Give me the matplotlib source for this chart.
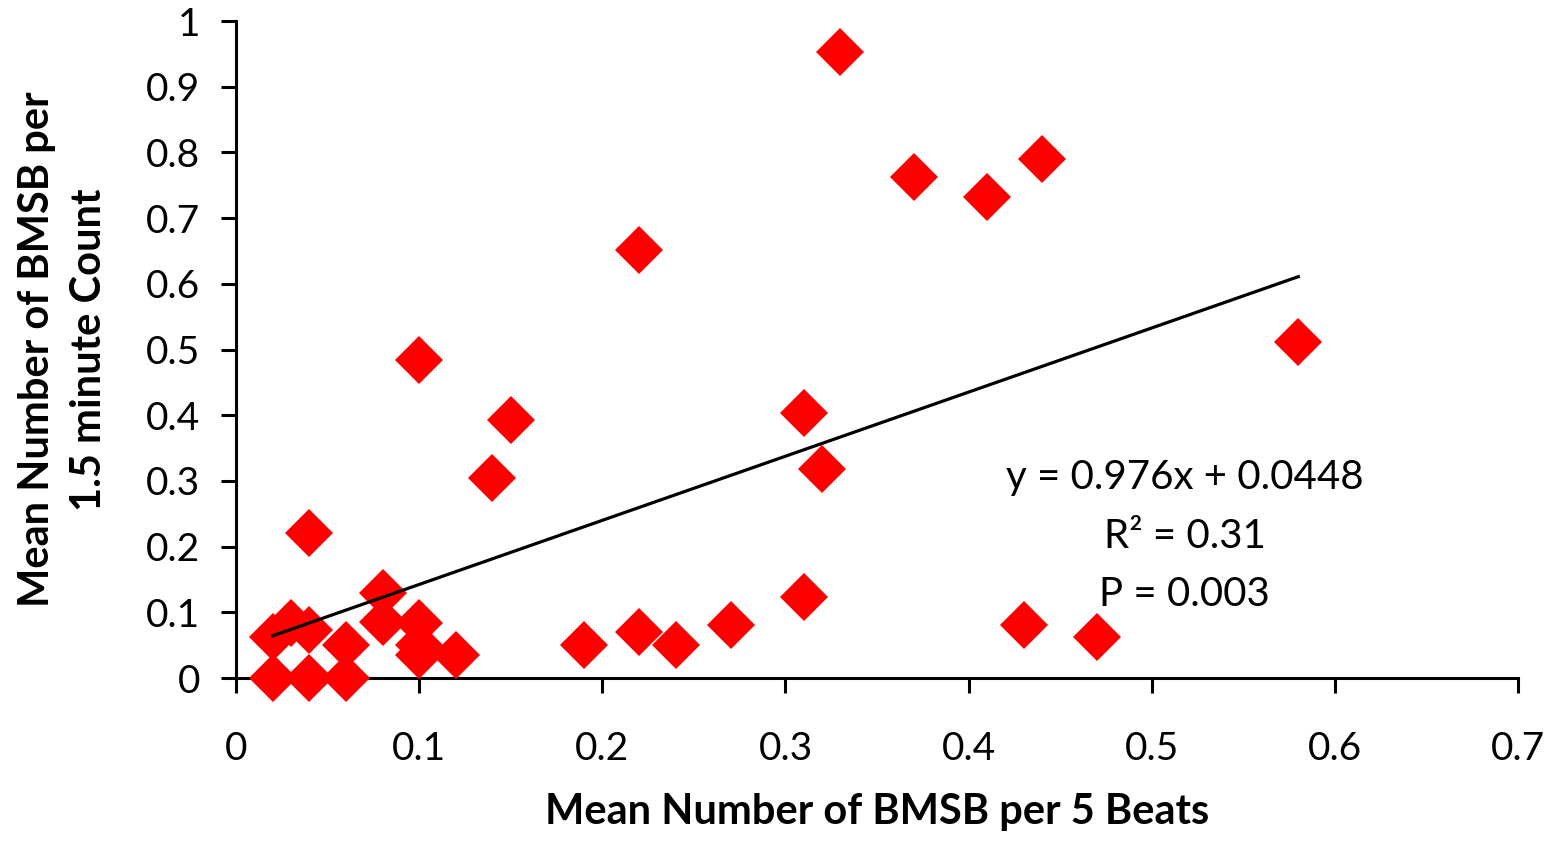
import numpy as np
import matplotlib
matplotlib.use('Agg')
import matplotlib.pyplot as plt

plt.rcParams['font.family'] = ['Lato', 'DejaVu Sans']

# 데이터
beats_x = [0.02, 0.02, 0.03, 0.04, 0.04, 0.04, 0.06, 0.06, 0.08, 0.08,
           0.10, 0.10, 0.10, 0.12, 0.10, 0.14, 0.15, 0.19, 0.22, 0.22,
           0.24, 0.27, 0.31, 0.31, 0.32, 0.33, 0.37, 0.41, 0.43, 0.44,
           0.47, 0.58]
count_y = [0.00, 0.062, 0.084, 0.073, 0.00, 0.22, 0.05, 0.00, 0.13, 0.085,
           0.084, 0.05, 0.035, 0.035, 0.484, 0.304, 0.393, 0.05, 0.651, 0.07,
           0.05, 0.08, 0.403, 0.123, 0.318, 0.953, 0.763, 0.732, 0.08, 0.79,
           0.062, 0.511]

slope = 0.976
intercept = 0.0448
eq_text = ['y = 0.976x + 0.0448', 'R² = 0.31', 'P = 0.003']

fig = plt.figure(figsize=(15.61, 8.47), dpi=100)
ax = fig.add_axes([0.1512, 0.1995, 0.8213, 0.7757])

ax.plot(beats_x, count_y, linestyle='none', marker='D', markersize=24,
        color='#ff0000', markeredgewidth=0, clip_on=False, zorder=3)

# 추세선
fit_x = np.unique(beats_x)
ax.plot(fit_x, slope * fit_x + intercept, color='black', linewidth=2.3, zorder=4)

ax.set_xlim(0, 0.7)
ax.set_ylim(0, 1)
ax.set_xticks(np.arange(0, 0.71, 0.1))
ax.set_xticklabels(['0', '0.1', '0.2', '0.3', '0.4', '0.5', '0.6', '0.7'])
ax.set_yticks(np.arange(0, 1.01, 0.1))
ax.set_yticklabels(['0', '0.1', '0.2', '0.3', '0.4', '0.5', '0.6', '0.7',
                    '0.8', '0.9', '1'])

ax.spines['top'].set_visible(False)
ax.spines['right'].set_visible(False)
for s in ['left', 'bottom']:
    ax.spines[s].set_linewidth(2.2)
ax.tick_params(axis='both', direction='out', length=11, width=2.2,
               labelsize=28)
ax.tick_params(axis='y', pad=15)
ax.tick_params(axis='x', pad=27)

ax.set_xlabel('Mean Number of BMSB per 5 Beats', fontsize=30,
              fontweight='bold', labelpad=19)
ax.set_ylabel('Mean Number of BMSB per\n1.5 minute Count', fontsize=30,
              fontweight='bold', linespacing=1.45)
ax.yaxis.set_label_coords(-0.10, 0.5)

for i, t in enumerate(eq_text):
    ax.text(0.518, 0.305 - i * 0.089, t, fontsize=29, ha='center', va='center')

fig.savefig('out.png', dpi=100)
